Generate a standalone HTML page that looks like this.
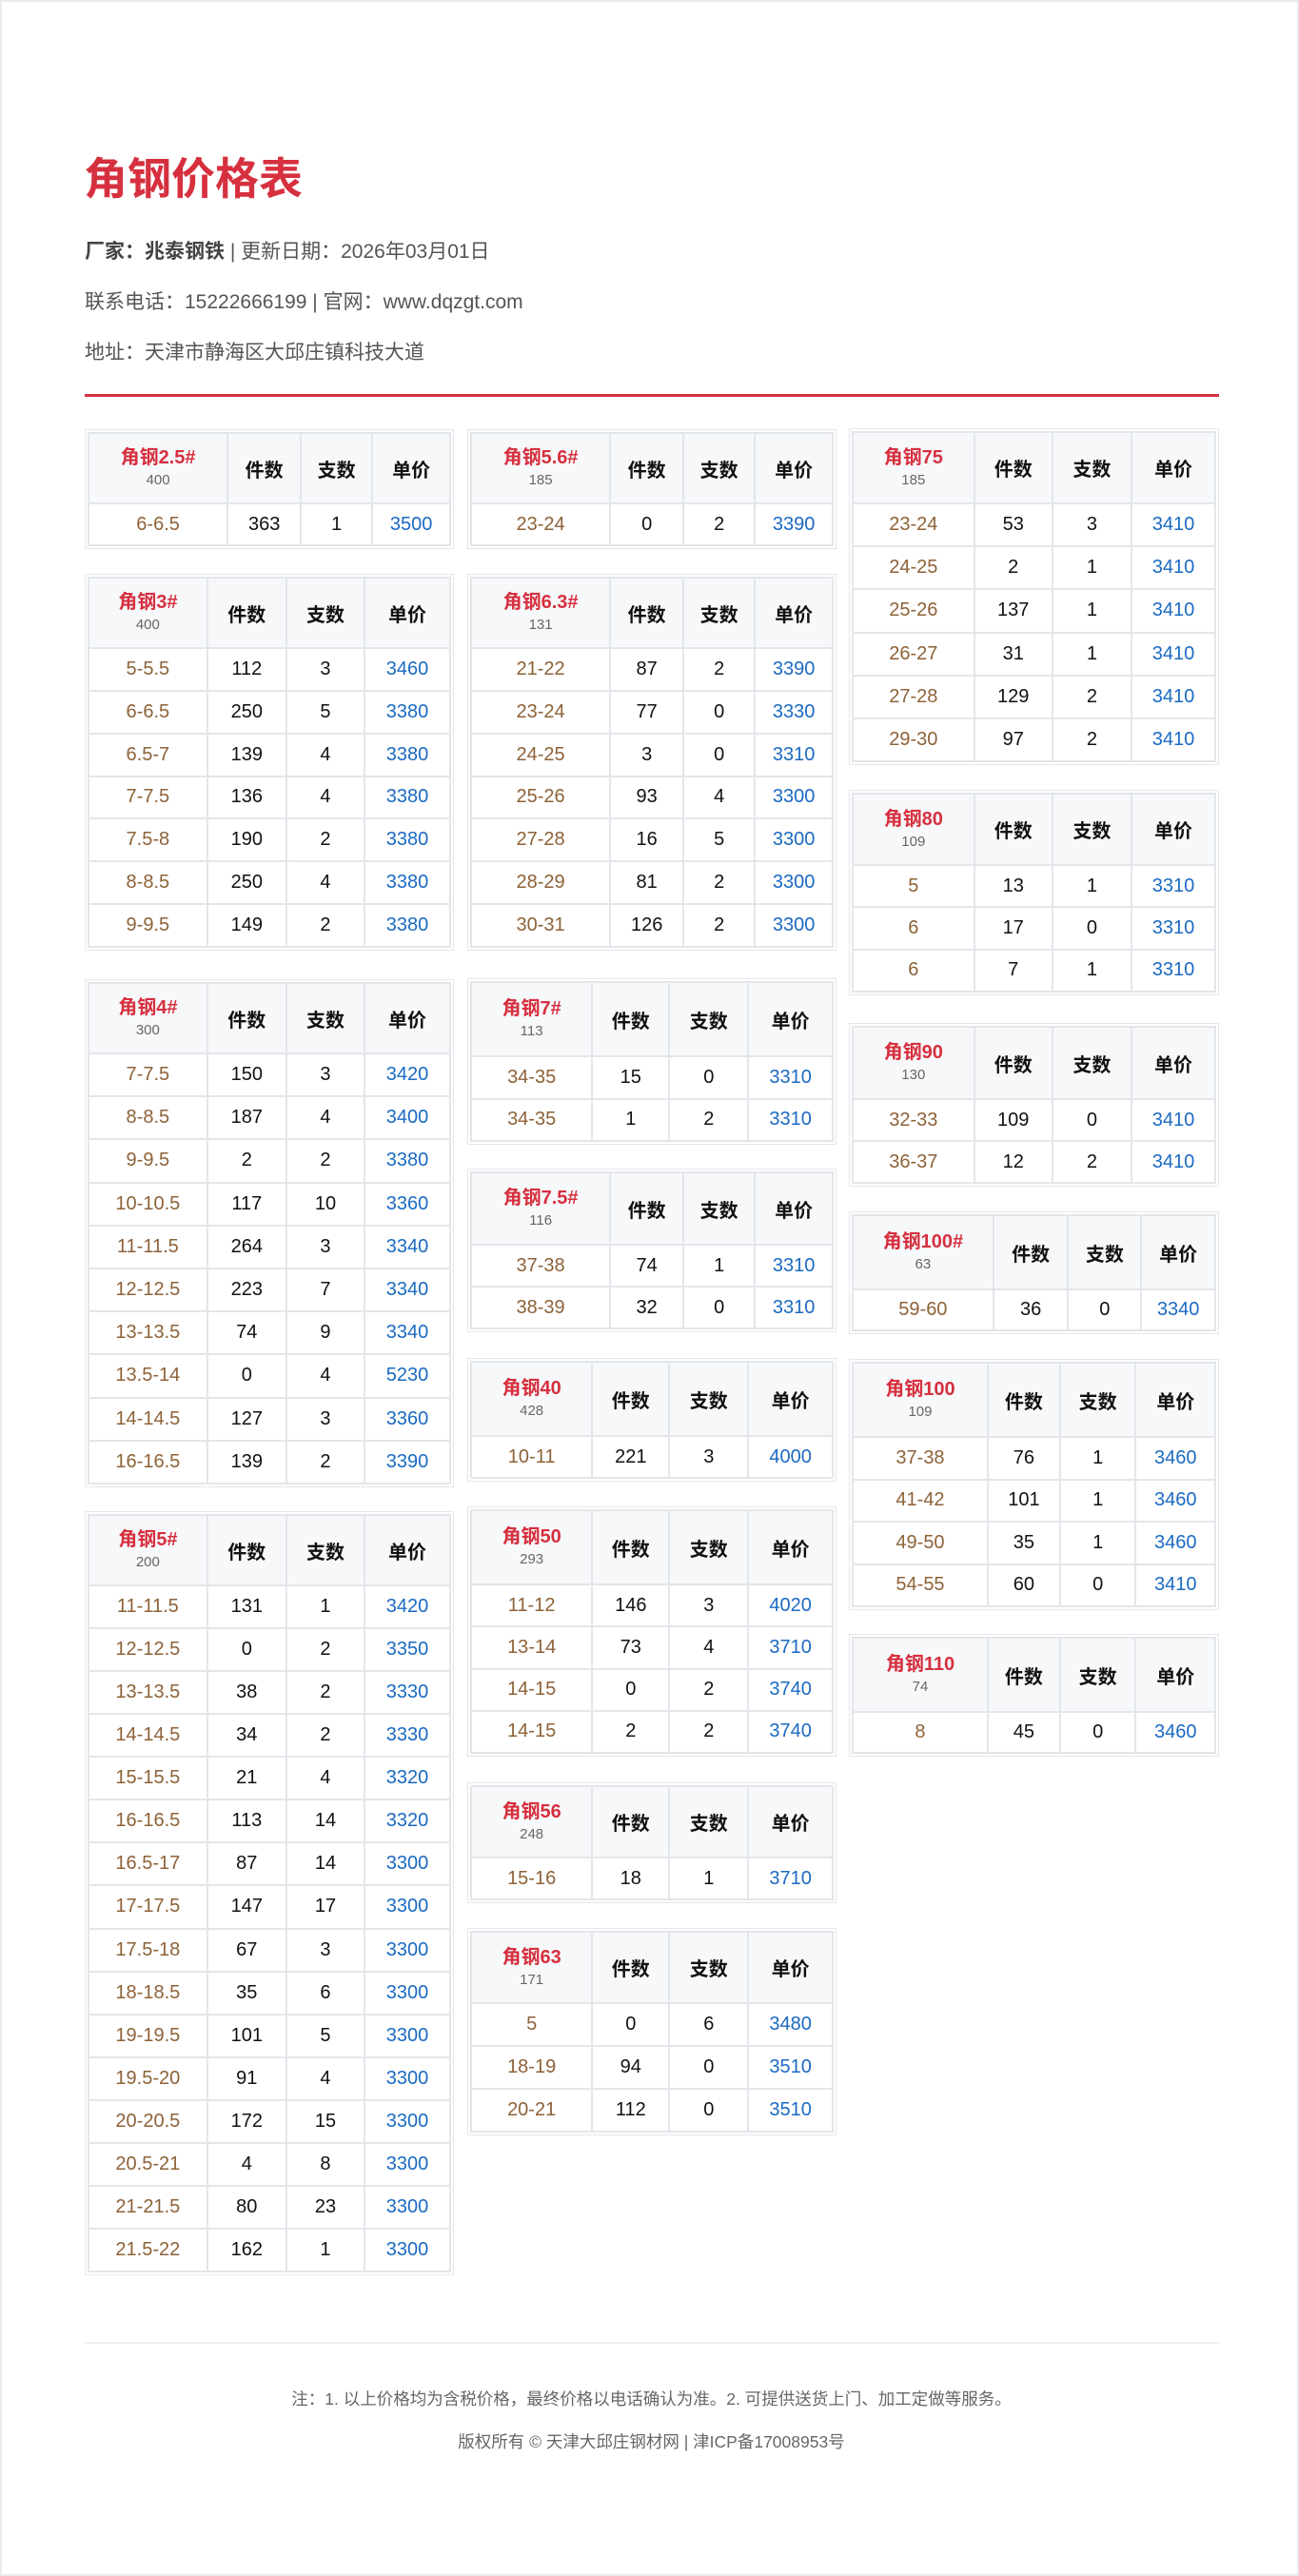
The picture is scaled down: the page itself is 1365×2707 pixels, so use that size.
<!DOCTYPE html>
<html><head><meta charset="utf-8"><style>
*{box-sizing:border-box;margin:0;padding:0}
html,body{width:1365px;height:2707px;background:#fff;overflow:hidden}
body{position:relative;font-family:"Liberation Sans","Noto Sans CJK SC",sans-serif;border:2px solid #e8eaed}
.abs{position:absolute}
h1{position:absolute;left:86px;top:158px;font-size:46px;line-height:56px;color:#d6303f;font-weight:bold}
.info{position:absolute;left:87px;font-size:21px;color:#555;line-height:28px}
.info b{color:#444}
.red{position:absolute;left:87px;top:412px;width:1192px;height:3px;background:#d6303f}
.box{position:absolute;border:1px solid #e4e7eb;padding:2px;background:#fff}
.g{display:grid;height:100%;background:#e3e6ea;padding:2px;gap:2px}
.g>div{display:flex;align-items:center;justify-content:center;flex-direction:column;background:#fff;font-size:20px;color:#111}
.g>.h{background:#f7f8fa;font-weight:bold;font-size:20px;color:#111}
.g>.h .t{color:#d6303f;font-size:20px;font-weight:bold;line-height:26px}
.g>.h .c{color:#666;font-size:15px;font-weight:normal;line-height:22px}
.g>.r{color:#8d6238}
.g>.p{color:#1b6ac2}
.foot{position:absolute;left:0;width:1365px;text-align:center;font-size:17.5px;color:#666}
</style></head><body>
<h1>角钢价格表</h1>
<div class="info" style="top:249px"><b>厂家：兆泰钢铁</b> | 更新日期：2026年03月01日</div>
<div class="info" style="top:302px">联系电话：15222666199 | 官网：www.dqzgt.com</div>
<div class="info" style="top:355px">地址：天津市静海区大邱庄镇科技大道</div>
<div class="red"></div>

<!-- Column 1 -->
<div class="box" style="left:87px;top:449px;width:388px;height:126px"><div class="g" style="grid-template-columns:150fr 78fr 76fr 83fr;grid-template-rows:72px repeat(1,1fr)">
<div class="h"><span class="t">角钢2.5#</span><span class="c">400</span></div><div class="h">件数</div><div class="h">支数</div><div class="h">单价</div>
<div class="r">6-6.5</div><div>363</div><div>1</div><div class="p">3500</div>
</div></div>

<div class="box" style="left:87px;top:601px;width:388px;height:396px"><div class="g" style="grid-template-columns:127fr 84fr 83fr 91fr;grid-template-rows:72px repeat(7,1fr)">
<div class="h"><span class="t">角钢3#</span><span class="c">400</span></div><div class="h">件数</div><div class="h">支数</div><div class="h">单价</div>
<div class="r">5-5.5</div><div>112</div><div>3</div><div class="p">3460</div>
<div class="r">6-6.5</div><div>250</div><div>5</div><div class="p">3380</div>
<div class="r">6.5-7</div><div>139</div><div>4</div><div class="p">3380</div>
<div class="r">7-7.5</div><div>136</div><div>4</div><div class="p">3380</div>
<div class="r">7.5-8</div><div>190</div><div>2</div><div class="p">3380</div>
<div class="r">8-8.5</div><div>250</div><div>4</div><div class="p">3380</div>
<div class="r">9-9.5</div><div>149</div><div>2</div><div class="p">3380</div>
</div></div>

<div class="box" style="left:87px;top:1027px;width:388px;height:534px"><div class="g" style="grid-template-columns:127fr 84fr 83fr 91fr;grid-template-rows:72px repeat(10,1fr)">
<div class="h"><span class="t">角钢4#</span><span class="c">300</span></div><div class="h">件数</div><div class="h">支数</div><div class="h">单价</div>
<div class="r">7-7.5</div><div>150</div><div>3</div><div class="p">3420</div>
<div class="r">8-8.5</div><div>187</div><div>4</div><div class="p">3400</div>
<div class="r">9-9.5</div><div>2</div><div>2</div><div class="p">3380</div>
<div class="r">10-10.5</div><div>117</div><div>10</div><div class="p">3360</div>
<div class="r">11-11.5</div><div>264</div><div>3</div><div class="p">3340</div>
<div class="r">12-12.5</div><div>223</div><div>7</div><div class="p">3340</div>
<div class="r">13-13.5</div><div>74</div><div>9</div><div class="p">3340</div>
<div class="r">13.5-14</div><div>0</div><div>4</div><div class="p">5230</div>
<div class="r">14-14.5</div><div>127</div><div>3</div><div class="p">3360</div>
<div class="r">16-16.5</div><div>139</div><div>2</div><div class="p">3390</div>
</div></div>

<div class="box" style="left:87px;top:1586px;width:388px;height:803px"><div class="g" style="grid-template-columns:127fr 84fr 83fr 91fr;grid-template-rows:72px repeat(16,1fr)">
<div class="h"><span class="t">角钢5#</span><span class="c">200</span></div><div class="h">件数</div><div class="h">支数</div><div class="h">单价</div>
<div class="r">11-11.5</div><div>131</div><div>1</div><div class="p">3420</div>
<div class="r">12-12.5</div><div>0</div><div>2</div><div class="p">3350</div>
<div class="r">13-13.5</div><div>38</div><div>2</div><div class="p">3330</div>
<div class="r">14-14.5</div><div>34</div><div>2</div><div class="p">3330</div>
<div class="r">15-15.5</div><div>21</div><div>4</div><div class="p">3320</div>
<div class="r">16-16.5</div><div>113</div><div>14</div><div class="p">3320</div>
<div class="r">16.5-17</div><div>87</div><div>14</div><div class="p">3300</div>
<div class="r">17-17.5</div><div>147</div><div>17</div><div class="p">3300</div>
<div class="r">17.5-18</div><div>67</div><div>3</div><div class="p">3300</div>
<div class="r">18-18.5</div><div>35</div><div>6</div><div class="p">3300</div>
<div class="r">19-19.5</div><div>101</div><div>5</div><div class="p">3300</div>
<div class="r">19.5-20</div><div>91</div><div>4</div><div class="p">3300</div>
<div class="r">20-20.5</div><div>172</div><div>15</div><div class="p">3300</div>
<div class="r">20.5-21</div><div>4</div><div>8</div><div class="p">3300</div>
<div class="r">21-21.5</div><div>80</div><div>23</div><div class="p">3300</div>
<div class="r">21.5-22</div><div>162</div><div>1</div><div class="p">3300</div>
</div></div>

<!-- Column 2 -->
<div class="box" style="left:489px;top:449px;width:388px;height:126px"><div class="g" style="grid-template-columns:150fr 78fr 76fr 83fr;grid-template-rows:72px repeat(1,1fr)">
<div class="h"><span class="t">角钢5.6#</span><span class="c">185</span></div><div class="h">件数</div><div class="h">支数</div><div class="h">单价</div>
<div class="r">23-24</div><div>0</div><div>2</div><div class="p">3390</div>
</div></div>

<div class="box" style="left:489px;top:601px;width:388px;height:396px"><div class="g" style="grid-template-columns:150fr 78fr 76fr 83fr;grid-template-rows:72px repeat(7,1fr)">
<div class="h"><span class="t">角钢6.3#</span><span class="c">131</span></div><div class="h">件数</div><div class="h">支数</div><div class="h">单价</div>
<div class="r">21-22</div><div>87</div><div>2</div><div class="p">3390</div>
<div class="r">23-24</div><div>77</div><div>0</div><div class="p">3330</div>
<div class="r">24-25</div><div>3</div><div>0</div><div class="p">3310</div>
<div class="r">25-26</div><div>93</div><div>4</div><div class="p">3300</div>
<div class="r">27-28</div><div>16</div><div>5</div><div class="p">3300</div>
<div class="r">28-29</div><div>81</div><div>2</div><div class="p">3300</div>
<div class="r">30-31</div><div>126</div><div>2</div><div class="p">3300</div>
</div></div>

<div class="box" style="left:489px;top:1026px;width:388px;height:175px"><div class="g" style="grid-template-columns:130fr 82fr 84fr 90fr;grid-template-rows:76px repeat(2,1fr)">
<div class="h"><span class="t">角钢7#</span><span class="c">113</span></div><div class="h">件数</div><div class="h">支数</div><div class="h">单价</div>
<div class="r">34-35</div><div>15</div><div>0</div><div class="p">3310</div>
<div class="r">34-35</div><div>1</div><div>2</div><div class="p">3310</div>
</div></div>

<div class="box" style="left:489px;top:1226px;width:388px;height:172px"><div class="g" style="grid-template-columns:150fr 78fr 76fr 83fr;grid-template-rows:74px repeat(2,1fr)">
<div class="h"><span class="t">角钢7.5#</span><span class="c">116</span></div><div class="h">件数</div><div class="h">支数</div><div class="h">单价</div>
<div class="r">37-38</div><div>74</div><div>1</div><div class="p">3310</div>
<div class="r">38-39</div><div>32</div><div>0</div><div class="p">3310</div>
</div></div>

<div class="box" style="left:489px;top:1425px;width:388px;height:130px"><div class="g" style="grid-template-columns:130fr 82fr 84fr 90fr;grid-template-rows:76px repeat(1,1fr)">
<div class="h"><span class="t">角钢40</span><span class="c">428</span></div><div class="h">件数</div><div class="h">支数</div><div class="h">单价</div>
<div class="r">10-11</div><div>221</div><div>3</div><div class="p">4000</div>
</div></div>

<div class="box" style="left:489px;top:1581px;width:388px;height:263px"><div class="g" style="grid-template-columns:130fr 82fr 84fr 90fr;grid-template-rows:76px repeat(4,1fr)">
<div class="h"><span class="t">角钢50</span><span class="c">293</span></div><div class="h">件数</div><div class="h">支数</div><div class="h">单价</div>
<div class="r">11-12</div><div>146</div><div>3</div><div class="p">4020</div>
<div class="r">13-14</div><div>73</div><div>4</div><div class="p">3710</div>
<div class="r">14-15</div><div>0</div><div>2</div><div class="p">3740</div>
<div class="r">14-15</div><div>2</div><div>2</div><div class="p">3740</div>
</div></div>

<div class="box" style="left:489px;top:1871px;width:388px;height:127px"><div class="g" style="grid-template-columns:130fr 82fr 84fr 90fr;grid-template-rows:73px repeat(1,1fr)">
<div class="h"><span class="t">角钢56</span><span class="c">248</span></div><div class="h">件数</div><div class="h">支数</div><div class="h">单价</div>
<div class="r">15-16</div><div>18</div><div>1</div><div class="p">3710</div>
</div></div>

<div class="box" style="left:489px;top:2024px;width:388px;height:218px"><div class="g" style="grid-template-columns:130fr 82fr 84fr 90fr;grid-template-rows:73px repeat(3,1fr)">
<div class="h"><span class="t">角钢63</span><span class="c">171</span></div><div class="h">件数</div><div class="h">支数</div><div class="h">单价</div>
<div class="r">5</div><div>0</div><div>6</div><div class="p">3480</div>
<div class="r">18-19</div><div>94</div><div>0</div><div class="p">3510</div>
<div class="r">20-21</div><div>112</div><div>0</div><div class="p">3510</div>
</div></div>

<!-- Column 3 -->
<div class="box" style="left:890px;top:448px;width:389px;height:354px"><div class="g" style="grid-template-columns:130fr 83fr 84fr 89fr;grid-template-rows:73px repeat(6,1fr)">
<div class="h"><span class="t">角钢75</span><span class="c">185</span></div><div class="h">件数</div><div class="h">支数</div><div class="h">单价</div>
<div class="r">23-24</div><div>53</div><div>3</div><div class="p">3410</div>
<div class="r">24-25</div><div>2</div><div>1</div><div class="p">3410</div>
<div class="r">25-26</div><div>137</div><div>1</div><div class="p">3410</div>
<div class="r">26-27</div><div>31</div><div>1</div><div class="p">3410</div>
<div class="r">27-28</div><div>129</div><div>2</div><div class="p">3410</div>
<div class="r">29-30</div><div>97</div><div>2</div><div class="p">3410</div>
</div></div>

<div class="box" style="left:890px;top:828px;width:389px;height:216px"><div class="g" style="grid-template-columns:130fr 83fr 84fr 89fr;grid-template-rows:73px repeat(3,1fr)">
<div class="h"><span class="t">角钢80</span><span class="c">109</span></div><div class="h">件数</div><div class="h">支数</div><div class="h">单价</div>
<div class="r">5</div><div>13</div><div>1</div><div class="p">3310</div>
<div class="r">6</div><div>17</div><div>0</div><div class="p">3310</div>
<div class="r">6</div><div>7</div><div>1</div><div class="p">3310</div>
</div></div>

<div class="box" style="left:890px;top:1073px;width:389px;height:172px"><div class="g" style="grid-template-columns:130fr 83fr 84fr 89fr;grid-template-rows:74px repeat(2,1fr)">
<div class="h"><span class="t">角钢90</span><span class="c">130</span></div><div class="h">件数</div><div class="h">支数</div><div class="h">单价</div>
<div class="r">32-33</div><div>109</div><div>0</div><div class="p">3410</div>
<div class="r">36-37</div><div>12</div><div>2</div><div class="p">3410</div>
</div></div>

<div class="box" style="left:890px;top:1271px;width:389px;height:129px"><div class="g" style="grid-template-columns:152fr 80fr 78fr 79fr;grid-template-rows:76px repeat(1,1fr)">
<div class="h"><span class="t">角钢100#</span><span class="c">63</span></div><div class="h">件数</div><div class="h">支数</div><div class="h">单价</div>
<div class="r">59-60</div><div>36</div><div>0</div><div class="p">3340</div>
</div></div>

<div class="box" style="left:890px;top:1426px;width:389px;height:264px"><div class="g" style="grid-template-columns:146fr 77fr 81fr 85fr;grid-template-rows:76px repeat(4,1fr)">
<div class="h"><span class="t">角钢100</span><span class="c">109</span></div><div class="h">件数</div><div class="h">支数</div><div class="h">单价</div>
<div class="r">37-38</div><div>76</div><div>1</div><div class="p">3460</div>
<div class="r">41-42</div><div>101</div><div>1</div><div class="p">3460</div>
<div class="r">49-50</div><div>35</div><div>1</div><div class="p">3460</div>
<div class="r">54-55</div><div>60</div><div>0</div><div class="p">3410</div>
</div></div>

<div class="box" style="left:890px;top:1715px;width:389px;height:129px"><div class="g" style="grid-template-columns:146fr 77fr 81fr 85fr;grid-template-rows:76px repeat(1,1fr)">
<div class="h"><span class="t">角钢110</span><span class="c">74</span></div><div class="h">件数</div><div class="h">支数</div><div class="h">单价</div>
<div class="r">8</div><div>45</div><div>0</div><div class="p">3460</div>
</div></div>

<div class="abs" style="left:87px;top:2459px;width:1192px;height:2px;background:#eceef1"></div>
<div class="foot" style="top:2506px">注：1. 以上价格均为含税价格，最终价格以电话确认为准。2. 可提供送货上门、加工定做等服务。</div>
<div class="foot" style="top:2551px">版权所有 © 天津大邱庄钢材网 | 津ICP备17008953号</div>
</body></html>
